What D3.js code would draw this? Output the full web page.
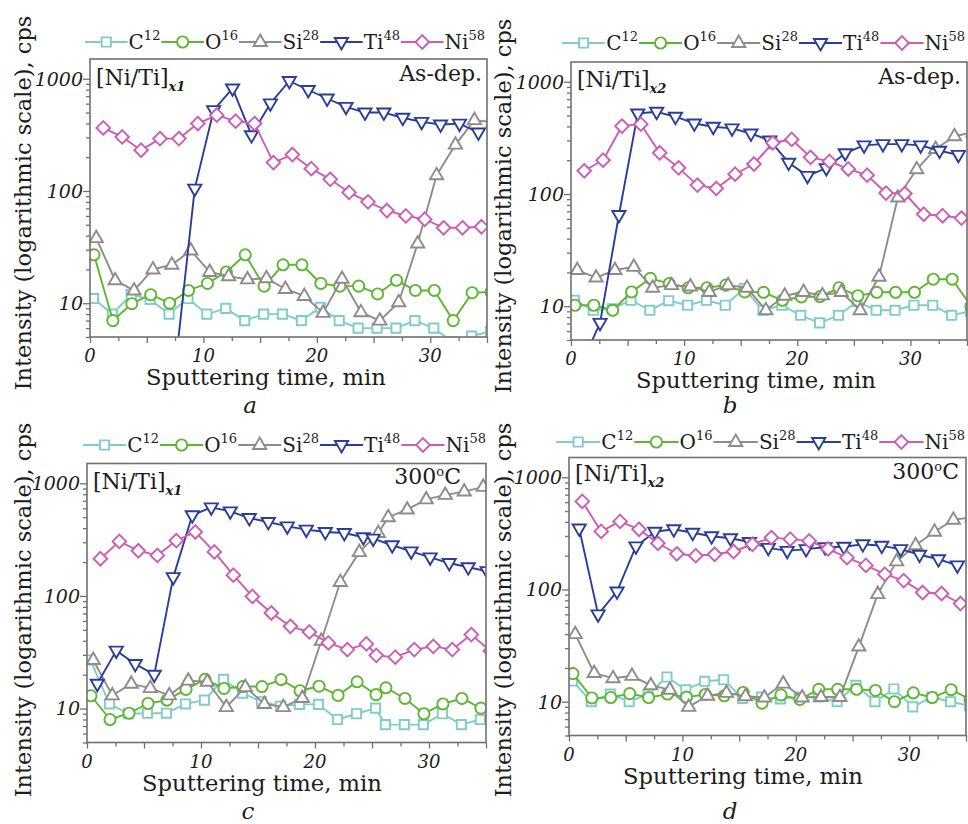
<!DOCTYPE html>
<html><head><meta charset="utf-8">
<script src="https://cdn.jsdelivr.net/npm/d3@7"></script>
<style>
body{margin:0;background:#fff}
svg text{font-family:"DejaVu Serif",serif;fill:#1c1c1c}
</style></head><body>
<svg id="chart" width="968" height="824"></svg>
<script>
// ---------- data ----------
const speciesNames = ["C", "O", "Si", "Ti", "Ni"];
const massNumbers = ["12", "16", "28", "48", "58"];
const firstReading = [0.3, 0.35, 0.55, 0.9, 1.17];   // min, first reading of each mass
const cycleMinutes = 1.667;                          // min between successive readings
const yMajorTicks = [10, 100, 1000];
const xTickLabels = [0, 10, 20, 30];
const panelLetters = ["a", "b", "c", "d"];
const sampleSubscripts = ["x1", "x2", "x1", "x2"];
const conditionLabels = ["As-dep.", "As-dep.", "300", "300"];

// panel a : [Ni/Ti]x1, as-deposited
const aC  = [11, 8, 12, 10.8, 8, 11, 8, 9, 7, 8, 8, 7, 9.2, 7, 6, 6, 6, 7, 6, 4.5, 5.1, 5.6];
const aO  = [27, 7, 9.9, 11.9, 10, 13, 15, 19, 27, 14.2, 22, 22, 15, 14.2, 14.2, 12.1, 16, 13, 13, 7, 12.4, 12.6];
const aSi = [38, 16, 13, 20, 22, 29.5, 19, 17.4, 16.3, 16.7, 13.4, 11.6, 8.2, 16.5, 8.3, 7.0, 10.2, 34, 138, 259, 428, 410];
const aTi = [null, null, null, null, 3, 105, 525, 820, 314, 603, 955, 794, 667, 562, 500, 500, 449, 413, 391, 398, 332];
const aNi = [365, 303, 231, 293, 293, 399, 474, 419, 399, 179, 211, 158, 127, 97, 80, 67, 60, 56, 47, 47, 48];

// panel b : [Ni/Ti]x2, as-deposited
const bC  = [11.3, 9.2, 9.5, 11.3, 9.2, 11.2, 10.2, 11.3, 10.2, 14.4, 9.2, 10.2, 8.3, 7.1, 8.3, 11, 9.2, 9.2, 10.2, 10.2, 8.3, 9.0];
const bO  = [10.2, 10.2, 9.2, 13.4, 17.7, 15.9, 14.6, 14.6, 15.4, 13.4, 13.3, 11.3, 12.1, 12.2, 14.6, 12.4, 13.3, 13.3, 13.3, 17.4, 17.4, 10];
const bSi = [21, 18, 21, 22.4, 14.6, 15.4, 15, 13.4, 15.4, 14.6, 9.2, 12.4, 13.4, 12.5, 13.4, 9.2, 18.3, 93, 166, 252, 327, 355];
const bTi = [3, 7.1, 65, 522, 540, 488, 425, 397, 384, 346, 300, 190, 145, 170, 231, 271, 278, 278, 271, 243, 223];
const bNi = [161, 200, 403, 419, 233, 171, 120, 112, 150, 185, 286, 306, 212, 195, 167, 147, 102, 101, 66, 64, 61];

// panel c : [Ni/Ti]x1, 300 C
const cC  = [27, 11, 9, 9.1, 9.1, 11, 11.9, 18.2, 13.7, 11.5, 10.5, 10.9, 10.9, 8.0, 9.0, 10.1, 7.2, 7.2, 7.2, 9.0, 7.2, 8.0];
const cO  = [13, 8.0, 9.1, 11.1, 11.9, 14.8, 18.2, 15.1, 15.7, 15.7, 18.1, 14.4, 15.8, 13.1, 17.3, 13.3, 15.3, 12.3, 9.0, 11, 12.3, 10.1];
const cSi = [27, 13.1, 16.6, 15.2, 13.1, 17.7, 17.3, 10.3, 15.5, 11, 10.3, 12.4, 40, 133, 245, 362, 500, 585, 720, 790, 845, 930];
const cTi = [16.6, 32.7, 24.9, 20, 147, 520, 612, 564, 492, 454, 415, 388, 370, 362, 332, 323, 282, 249, 220, 196, 180, 166];
const cNi = [214, 305, 252, 229, 310, 370, 246, 153, 99, 70.6, 53.8, 47.9, 38.3, 33.4, 37.5, 29.7, 28.6, 33.4, 35.7, 33.4, 45.4, 32.5];
const cClockResetAt = 25.7;   // min: readings after this were logged 0.8 min earlier
const cClockShift = -0.8;

// panel d : [Ni/Ti]x2, 300 C
const dC  = [15.3, 10, 11.7, 10, 11.7, 16.6, 12.8, 15.2, 15.7, 10.7, 11, 10.6, 11, 11, 10, 14, 10, 13, 9, 11, 10, 9.2];
const dO  = [17.8, 10.8, 10.9, 11.8, 10.9, 11.7, 11, 11.6, 11.3, 12.1, 9.7, 11.5, 10.5, 12.9, 12.9, 12.9, 12.6, 10, 12, 10.9, 12.8, 10.5];
const dSi = [40, 18, 16.2, 17, 14, 12.8, 9.0, 11.3, 12, 11.2, 10.9, 14.5, 10.9, 11, 11, 31, 91, 178, 248, 327, 418, 440];
const dTi = [349, 60, 96, 242, 327, 344, 320, 298, 286, 265, 235, 221, 229, 238, 240, 253, 245, 229, 204, 186, 164];
const dNi = [609, 329, 404, 344, 258, 208, 200, 206, 218, 253, 290, 281, 271, 230, 192, 164, 137, 120, 94, 92, 75];

// ---------- style / layout ----------
const colors = ["#80cdc5", "#5cb632", "#8f8b88", "#2b3d9b", "#cc5db4"];
const frameColor = "#707070";
const markerPaths = [
  "M-4.6,-4.6h9.2v9.2h-9.2z",
  null,
  "M0,-7.4L6.6,4L-6.6,4Z",
  "M0,7.4L6.6,-4L-6.6,-4Z",
  "M0,-6.8L6.8,0L0,6.8L-6.8,0Z"
];

const layouts = [
  {left: 90,  top: 59,    w: 397, h: 278, legX: 85,  legW: 401, legY: 42,  ylabX: 31,  ylabY: 203, xlabX: 266, letX: 250, letY: 413, condInset: 5,  condDy: 22, nameDy: 26, series: [aC, aO, aSi, aTi, aNi], reset: null},
  {left: 571, top: 62,    w: 396, h: 278, legX: 562, legW: 404, legY: 43,  ylabX: 511, ylabY: 206, xlabX: 756, letX: 730, letY: 413, condInset: 6,  condDy: 22, nameDy: 25, series: [bC, bO, bSi, bTi, bNi], reset: null},
  {left: 87,  top: 463.5, w: 399, h: 279, legX: 83,  legW: 404, legY: 445, ylabX: 31,  ylabY: 610, xlabX: 262, letX: 248, letY: 819, condInset: 25, condDy: 20, nameDy: 25, series: [cC, cO, cSi, cTi, cNi], reset: {at: cClockResetAt, by: cClockShift}},
  {left: 569, top: 457.5, w: 397, h: 278, legX: 556, legW: 410, legY: 442, ylabX: 511, ylabY: 610, xlabX: 743, letX: 730, letY: 819, condInset: 7,  condDy: 21, nameDy: 23, series: [dC, dO, dSi, dTi, dNi], reset: null}
];

const svg = d3.select("#chart");

function drawMarker(g, s) {
  if (s === 1) {
    return g.append("circle").attr("r", 5.6);
  }
  return g.append("path").attr("d", markerPaths[s]);
}

layouts.forEach((L, p) => {
  const x = d3.scaleLinear().domain([0, 35]).range([L.left, L.left + L.w]);
  const y = d3.scaleLog().domain([5, 1500]).range([L.top + L.h, L.top]);
  const g = svg.append("g");

  g.append("rect").attr("x", L.left).attr("y", L.top).attr("width", L.w).attr("height", L.h)
    .attr("fill", "#fff").attr("stroke", "none");

  const clipId = "clip" + p;
  svg.append("clipPath").attr("id", clipId).append("rect")
    .attr("x", L.left).attr("y", L.top).attr("width", L.w).attr("height", L.h);

  // left axis: major + minor log ticks
  const minorY = [];
  [1, 10, 100].forEach(dec => d3.range(2, 10).forEach(k => { const v = k * dec; if (v >= 5 && v < 1500 && !yMajorTicks.includes(v)) minorY.push(v); }));
  const yAxisMajor = d3.axisLeft(y).tickValues(yMajorTicks).tickSize(7).tickFormat("");
  const yAxisMinor = d3.axisLeft(y).tickValues(minorY).tickSize(4).tickFormat("");
  [yAxisMajor, yAxisMinor].forEach(ax => {
    const a = g.append("g").attr("transform", `translate(${L.left},0)`).call(ax);
    a.select(".domain").remove();
    a.selectAll("line").attr("stroke", frameColor).attr("stroke-width", 1.3);
  });
  g.selectAll(".ylab").data(yMajorTicks).join("text")
    .attr("x", L.left - 7).attr("y", d => y(d)).attr("dy", "0.36em")
    .attr("text-anchor", "end").attr("font-style", "italic").attr("font-size", 19)
    .text(d => d);

  // bottom axis
  const xMinor = d3.range(0, 35.01, 2.5);
  const xAxisMinor = d3.axisBottom(x).tickValues(xMinor.filter(v => v % 5 !== 0)).tickSize(4).tickFormat("");
  const xAxisMajor = d3.axisBottom(x).tickValues(xMinor.filter(v => v % 5 === 0)).tickSize(6).tickFormat("");
  [xAxisMinor, xAxisMajor].forEach(ax => {
    const a = g.append("g").attr("transform", `translate(0,${L.top + L.h})`).call(ax);
    a.select(".domain").remove();
    a.selectAll("line").attr("stroke", frameColor).attr("stroke-width", 1.3);
  });
  g.selectAll(".xlab").data(xTickLabels).join("text")
    .attr("x", d => x(d)).attr("y", L.top + L.h + 25)
    .attr("text-anchor", "middle").attr("font-style", "italic").attr("font-size", 18)
    .text(d => d);

  // series
  const plot = g.append("g").attr("clip-path", `url(#${clipId})`);
  L.series.forEach((vals, s) => {
    const pts = vals.map((v, i) => {
      let t = firstReading[s] + cycleMinutes * i;
      if (L.reset && t > L.reset.at) t += L.reset.by;
      return {t, v};
    });
    const line = d3.line().defined(d => d.v != null).x(d => x(d.t)).y(d => y(d.v));
    plot.append("path").attr("d", line(pts)).attr("fill", "none")
      .attr("stroke", colors[s]).attr("stroke-width", 1.9).attr("stroke-linejoin", "round");
    pts.filter(d => d.v != null).forEach(d => {
      const m = plot.append("g").attr("transform", `translate(${x(d.t)},${y(d.v)})`);
      drawMarker(m, s).attr("fill", "#fff").attr("stroke", colors[s]).attr("stroke-width", 1.9);
    });
  });

  g.append("rect").attr("x", L.left).attr("y", L.top).attr("width", L.w).attr("height", L.h)
    .attr("fill", "none").attr("stroke", frameColor).attr("stroke-width", 1.6);

  // sample label
  const nm = g.append("text").attr("x", L.left + 6).attr("y", L.top + L.nameDy).attr("font-size", 22);
  nm.append("tspan").text("[Ni/Ti]");
  nm.append("tspan").attr("dy", 6).attr("font-size", 13).attr("font-style", "italic").attr("font-weight", "bold").text(sampleSubscripts[p]);

  // condition label
  const cond = g.append("text").attr("x", L.left + L.w - L.condInset).attr("y", L.top + L.condDy)
    .attr("text-anchor", "end").attr("font-size", 22);
  if (conditionLabels[p] === "300") {
    cond.append("tspan").text("300");
    cond.append("tspan").attr("dy", -8).attr("font-size", 13).text("o");
    cond.append("tspan").attr("dy", 8).text("C");
  } else {
    cond.text(conditionLabels[p]);
  }

  // axis titles
  const xt = g.append("text").attr("x", L.xlabX).attr("y", L.top + L.h + 48)
    .attr("text-anchor", "middle").attr("font-size", 21).text("Sputtering time, min");
  const xl = xt.node().getComputedTextLength();
  xt.attr("font-size", 21 * 240 / xl);

  const yt = g.append("text").attr("transform", `translate(${L.ylabX},${L.ylabY}) rotate(-90)`)
    .attr("text-anchor", "middle").attr("font-size", 21).text("Intensity (logarithmic scale), cps");
  const yl = yt.node().getComputedTextLength();
  yt.attr("font-size", 21 * 375 / yl);

  g.append("text").attr("x", L.letX).attr("y", L.letY).attr("text-anchor", "middle")
    .attr("font-style", "italic").attr("font-size", 23).text(panelLetters[p]);

  // legend: measure labels, then share the remaining width among line segments
  const legG = g.append("g");
  const labels = speciesNames.map((nmS, s) => {
    const tx = legG.append("text").attr("y", L.legY + 7).attr("font-size", 20);
    tx.append("tspan").text(nmS);
    tx.append("tspan").attr("dy", -9).attr("font-size", 13).text(massNumbers[s]);
    return tx;
  });
  const textW = labels.map(t => t.node().getComputedTextLength());
  const segLen = (L.legW - d3.sum(textW) - 5 * 2) / 5;
  let lx = L.legX;
  speciesNames.forEach((nmS, s) => {
    legG.insert("line", "text").attr("x1", lx).attr("x2", lx + segLen).attr("y1", L.legY).attr("y2", L.legY)
      .attr("stroke", colors[s]).attr("stroke-width", 1.9);
    const m = legG.append("g").attr("transform", `translate(${lx + segLen / 2},${L.legY})`);
    drawMarker(m, s).attr("fill", "#fff").attr("stroke", colors[s]).attr("stroke-width", 1.9);
    labels[s].attr("x", lx + segLen + 1);
    lx += segLen + 1 + textW[s] + 1;
  });
});
</script>
</body></html>
